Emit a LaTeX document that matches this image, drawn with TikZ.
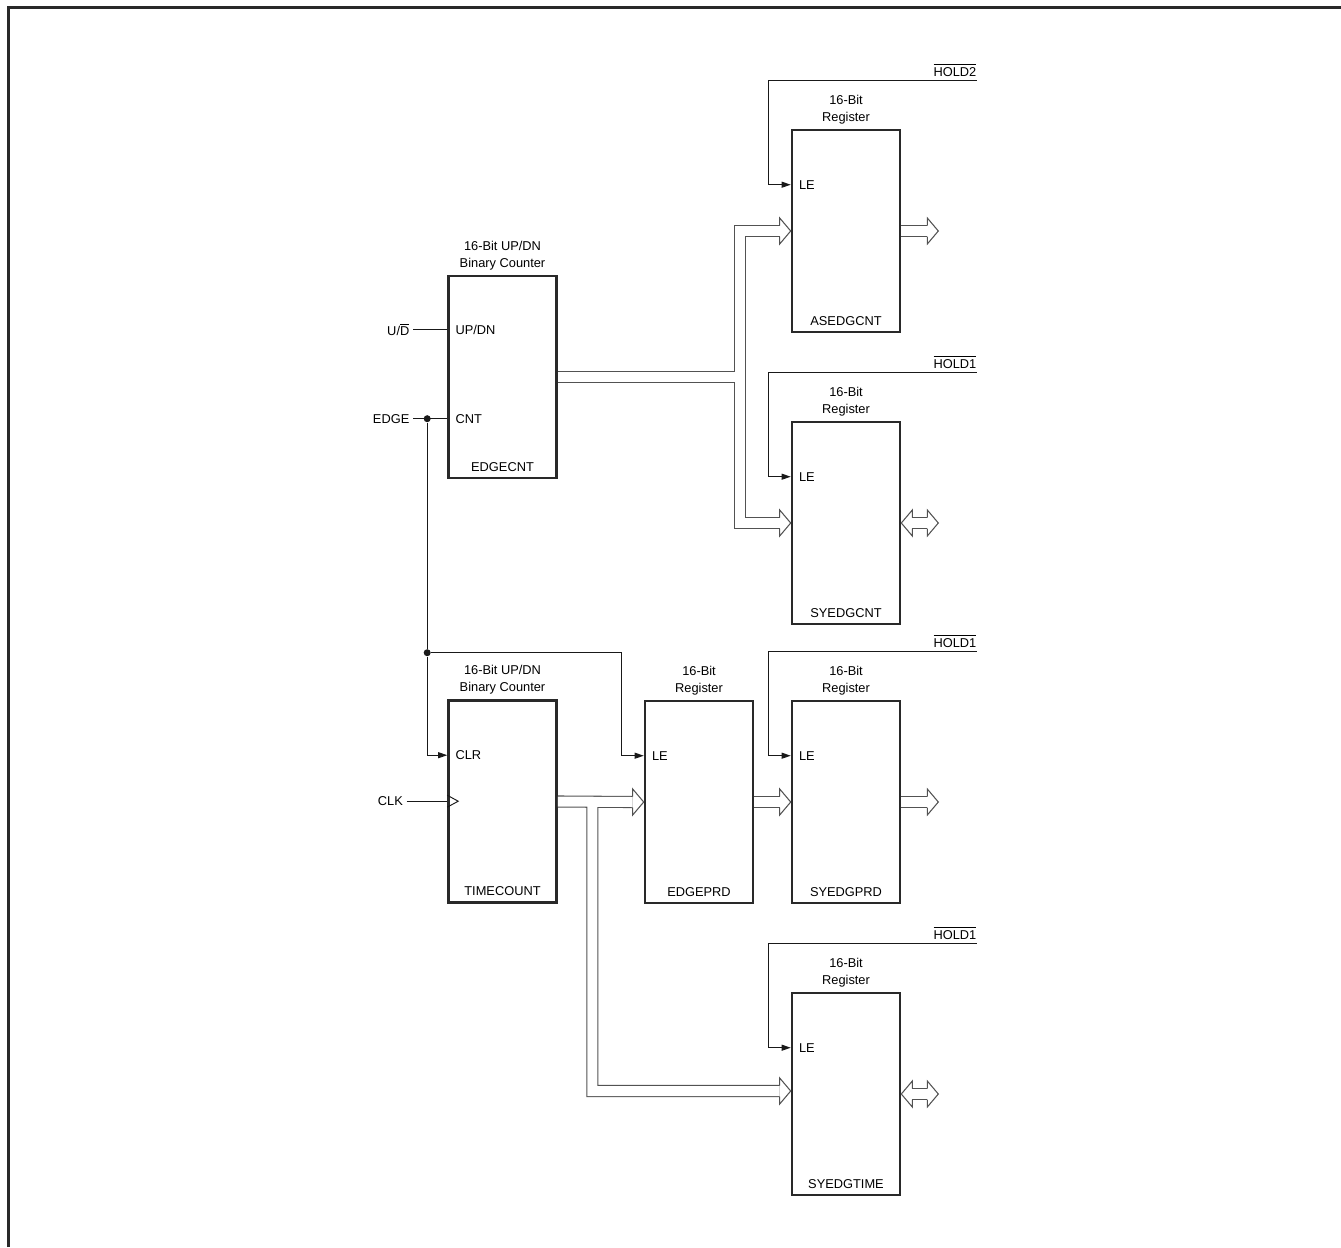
\documentclass[tikz,border=0pt]{standalone}
\usepackage{fontspec}
\setmainfont{Liberation Sans}
\usetikzlibrary{arrows.meta, calc, positioning}
\definecolor{boxline}{gray}{0.16}
\definecolor{busgray}{gray}{0.32}
\definecolor{sigline}{gray}{0.10}
\tikzset{
  regbox/.style   = {draw=boxline, line width=1.5pt, minimum width=2.16cm,
                     minimum height=4.04cm, inner sep=0pt},
  boxtitle/.style = {font=\fontsize{7.3}{9.6}\selectfont, align=center,
                     anchor=south, inner sep=0pt},
  boxname/.style  = {font=\fontsize{7.3}{8.8}\selectfont, anchor=south, inner sep=0pt},
  pinlab/.style   = {font=\fontsize{7.3}{8.8}\selectfont, inner sep=0pt},
  inlab/.style    = {pinlab, anchor=east, outer sep=2.2pt},
  sig/.style      = {draw=sigline, line width=0.55pt},
  sigarrow/.style = {sig, -{Triangle[length=1.8mm, width=1.2mm]}},
  bus/.style      = {draw=busgray, line width=0.6pt, double=white,
                     double distance=0.2cm},
  busline/.style  = {draw=busgray, line width=0.6pt, line join=miter},
  jdot/.style     = {circle, fill=sigline, minimum size=1.4mm, inner sep=0pt},
  bushead/.pic    = {\draw[busline] (-11,-5.5) -- (-11,-13) -- (0,0) -- (-11,13) -- (-11,5.5);},
}

\begin{document}
\begin{tikzpicture}[x=0.02cm, y=-0.02cm, line join=miter]
  \useasboundingbox (0,0) rectangle (1341,1247);
  \draw[boxline, line width=1.3pt] (8.5,1247) -- (8.5,7.5) -- (1341,7.5);
  % blocks
  \foreach \nm/\cx/\cy/\lab in {cntedg/502.5/377/EDGECNT, cnttime/502.5/801.5/TIMECOUNT,
      regasedg/846/231/ASEDGCNT, regsyedg/846/523/SYEDGCNT, regprd/699/802/EDGEPRD,
      regsyprd/846/802/SYEDGPRD, regsytime/846/1094/SYEDGTIME}{%
    \node[regbox] (\nm) at (\cx,\cy) {};
    \node[boxname] (\nm-name) at ($(\nm.south)+(0,-7.5)$) {\lab};}
  \foreach \nm in {cntedg, cnttime}{%
    \node[boxtitle] (\nm-title) at ($(\nm.north)+(0,-4.5)$) {16-Bit UP/DN\\Binary Counter};}
  \foreach \nm in {regasedg, regsyedg, regprd, regsyprd, regsytime}{%
    \node[boxtitle] (\nm-title) at ($(\nm.north)+(0,-4.5)$) {16-Bit\\Register};}
  % latch enables
  \foreach \nm/\hold in {regasedg/HOLD2, regsyedg/HOLD1, regsyprd/HOLD1, regsytime/HOLD1}{%
    \coordinate (\nm-le) at ($(\nm.north west)+(0,56)$);
    \node[pinlab, anchor=west] (\nm-letext) at ($(\nm-le)+(8,0)$) {LE};
    \coordinate (\nm-hold) at ($(\nm.north west)+(186,-48)$);
    \node[pinlab, anchor=south east] (\nm-holdtext) at ($(\nm-hold)+(0,-4)$) {$\overline{\mbox{\hold}}$};
    \draw[sigarrow] (\nm-hold) -| ($(\nm-le)+(-22,0)$) -- (\nm-le);}
  \coordinate (regprd-le) at ($(regprd.north west)+(0,56)$);
  \node[pinlab, anchor=west] (regprd-letext) at ($(regprd-le)+(8,0)$) {LE};
  % counter pins
  \coordinate (cntedg-updn) at ($(cntedg.north west)+(0,55)$);
  \coordinate (cntedg-cnt)  at ($(cntedg.north west)+(0,144)$);
  \coordinate (cnttime-clr) at ($(cnttime.north west)+(0,56)$);
  \coordinate (cnttime-clk) at ($(cnttime.north west)+(0,102)$);
  \node[pinlab, anchor=west] (cntedg-updntext) at ($(cntedg-updn)+(8,0)$) {UP/DN};
  \node[pinlab, anchor=west] (cntedg-cnttext)  at ($(cntedg-cnt)+(8,0)$) {CNT};
  \node[pinlab, anchor=west] (cnttime-clrtext) at ($(cnttime-clr)+(8,0)$) {CLR};
  % inputs
  \node[inlab] (updnin) at ($(cntedg-updn)+(-34,0)$) {U/$\overline{\mbox{D}}$};
  \node[inlab] (edgein) at ($(cntedg-cnt)+(-34,0)$) {EDGE};
  \node[inlab] (clkin)  at ($(cnttime-clk)+(-40.5,0)$) {CLK};
  \node[jdot] (edgetap)   at ($(cntedg-cnt)+(-20,0)$) {};
  \node[jdot] (edgesplit) at ($(edgetap)+(0,234)$) {};
  \draw[sig] (updnin) -- (cntedg-updn);
  \draw[sig] (edgein) -- (cntedg-cnt);
  \draw[sig] (edgetap) -- (edgesplit);
  \draw[sigarrow] (edgesplit) |- (cnttime-clr);
  \draw[sigarrow] (edgesplit) -| ($(regprd-le)+(-22,0)$) -- (regprd-le);
  \draw[sig] (clkin) -- (cnttime-clk);
  \draw[sig] ($(cnttime-clk)+(0,-6)$) -- ++(11,6) -- ++(-11,6);
  % buses
  \coordinate (busa) at ($(cntedg.east)+(182,0)$);
  \draw[bus] (cntedg.east) -- (busa) |- ($(regasedg.west)+(-11,0)$)
    (busa) |- ($(regsyedg.west)+(-11,0)$);
  \pic at (regasedg.west) {bushead};
  \pic at (regsyedg.west) {bushead};
  \coordinate (busb) at ($(cnttime.east)+(34.5,0)$);
  \draw[bus] (cnttime.east) -- ($(regprd.west)+(-11,0)$)
    (busb) |- ($(regsytime.west)+(-11,-3)$);
  \pic at (regprd.west) {bushead};
  \pic at ($(regsytime.west)+(0,-3)$) {bushead};
  \draw[bus] (regprd.east) -- ($(regsyprd.west)+(-11,0)$);
  \pic at (regsyprd.west) {bushead};
  % outputs
  \foreach \nm in {regasedg, regsyprd}{%
    \draw[bus] (\nm.east) -- ++(26,0);
    \pic at ($(\nm.east)+(37,0)$) {bushead};}
  \foreach \nm in {regsyedg, regsytime}{%
    \draw[bus] ($(\nm.east)+(11,0)$) -- ++(15,0);
    \pic[rotate=180] at (\nm.east) {bushead};
    \pic at ($(\nm.east)+(37,0)$) {bushead};}
\end{tikzpicture}
\end{document}
